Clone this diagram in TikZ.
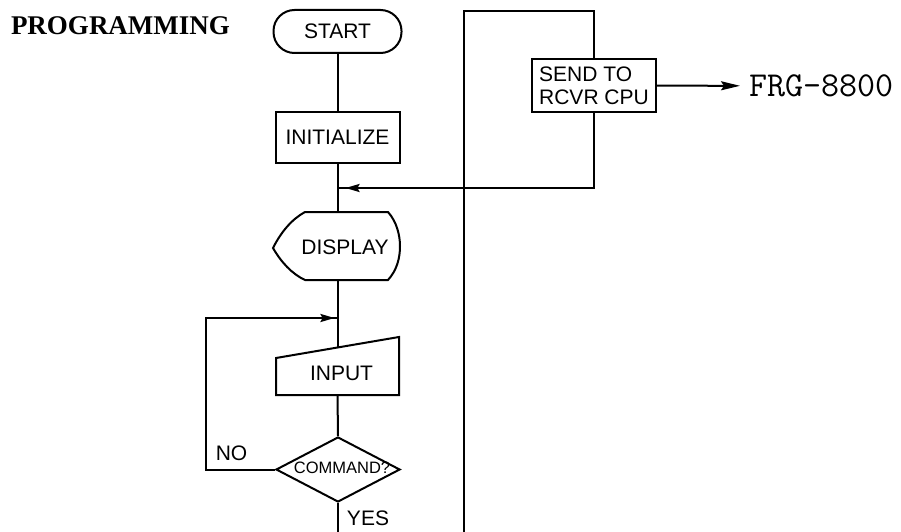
\documentclass[tikz,border=0pt]{standalone}
\usepackage{fontspec}
\setmainfont{Liberation Sans}
\newfontfamily\serifbold{Liberation Serif}
\usetikzlibrary{shapes.geometric,arrows.meta,decorations.markings}
\begin{document}
\begin{tikzpicture}[x=1pt,y=-1pt, line width=2pt,
  lbl/.style={font=\fontsize{21}{23}\selectfont, inner sep=0pt},
  box/.style={draw, rectangle, inner sep=0pt, font=\fontsize{21}{23}\selectfont},
  midarrow/.style={postaction={decorate}, decoration={markings, mark=at position #1 with {\arrow{Stealth[length=14pt,width=8pt,inset=2pt]}}}},
  bigarrow/.style={-{Stealth[length=19pt,width=9pt,inset=3pt]}},
]
\useasboundingbox (0,0) rectangle (901,532);

% title
\node[font=\serifbold\bfseries\fontsize{27}{27}\selectfont, anchor=base west, inner sep=0pt] (title) at (10,35) {PROGRAMMING};

% start / initialize
\node[box, rounded corners=21pt, minimum width=128pt, minimum height=43pt] (start) at (337.5,31.5) {START};
\node[box, minimum width=124pt, minimum height=51pt] (init) at (337.5,137.5) {INITIALIZE};

% display shape
\draw (305,212) -- (388,212) .. controls (397,222) and (400,236) .. (400,246)
  .. controls (400,258) and (397,270) .. (388,280) -- (305,280)
  .. controls (292,274) and (281,262) .. (273,248)
  .. controls (281,232) and (292,219) .. (305,212) -- cycle;
\node[lbl] (display) at (345,247) {DISPLAY};
\coordinate (dtop) at (337.5,212);
\coordinate (dbot) at (337.5,280);

% input shape
\draw (276,358) -- (399,337) -- (399,395) -- (276,395) -- cycle;
\node[lbl] (input) at (341.5,373) {INPUT};
\coordinate (itop) at (337.5,347.5);
\coordinate (ibot) at (337.5,395);

% decision
\node[draw, diamond, minimum width=124pt, minimum height=65pt, inner sep=0pt] (dia) at (338,469.5) {};
\node[font=\fontsize{16.5}{17}\selectfont, inner sep=0pt] (command) at (342,467.5) {COMMAND?};

% send box
\node[box, minimum width=124pt, minimum height=53pt, align=left] (send) at (594,85.5) {SEND TO\\RCVR CPU};
\node[font=\ttfamily\fontsize{35}{35}\selectfont, anchor=west, inner sep=0pt] (frg) at (748,86) {FRG-8800};

% labels
\node[lbl] (no) at (231.5,453) {NO};
\node[lbl] (yes) at (368,518) {YES};

% coordinates
\coordinate (j1) at (337.5,188);
\coordinate (j2) at (337.5,318);
\coordinate (ybot) at (338,532);
\coordinate (lbot) at (464,532);
\coordinate (tr) at (594,11);

% connectors
\draw (start) -- (init);
\draw (init) -- (dtop);
\draw (dbot) -- (itop);
\draw (ibot) -- (dia.north);
\draw (dia.south) -- (ybot);
\draw[midarrow=-3pt] (dia.west) -- ++(-69,0) |- (j2);
\draw (lbot) |- (tr) -- (send.north);
\draw[midarrow=-8pt] (send.south) |- (j1);
\draw[bigarrow, shorten >=8pt] (send) -- (frg);
\end{tikzpicture}
\end{document}
